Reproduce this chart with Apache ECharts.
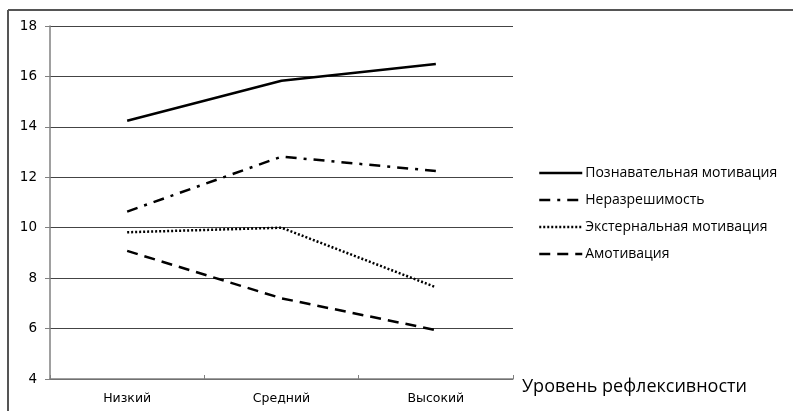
<!DOCTYPE html>
<html>
<head>
<meta charset="utf-8">
<script src="https://cdn.jsdelivr.net/npm/echarts@6/dist/echarts.min.js"></script>
<style>
html,body{margin:0;padding:0;background:#fff;}
#chart{width:793px;height:411px;}
</style>
</head>
<body>
<div id="chart"></div>
<script>
var categories = ['Низкий', 'Средний', 'Высокий'];
var seriesNames = ['Познавательная мотивация', 'Неразрешимость', 'Экстернальная мотивация', 'Амотивация'];
var poznavatelnaya = [14.24, 15.83, 16.49];
var nerazreshimost = [10.64, 12.82, 12.25];
var eksternalnaya = [9.82, 10.0, 7.64];
var amotivaciya = [9.08, 7.2, 5.94];
var yTicks = [4, 6, 8, 10, 12, 14, 16, 18];
var xAxisTitle = 'Уровень рефлексивности';

var dataSets = [poznavatelnaya, nerazreshimost, eksternalnaya, amotivaciya];
var dashTypes = ['solid', [11, 7, 3, 7], [2, 2], [11, 7]];

var chart = echarts.init(document.getElementById('chart'), null, {renderer: 'canvas'});
var series = seriesNames.map(function (n, i) {
  return {
    name: n,
    type: 'line',
    data: dataSets[i],
    symbol: 'none',
    lineStyle: {color: '#000', width: 2.5, type: dashTypes[i]},
    itemStyle: {color: '#000'},
    animation: false
  };
});

chart.setOption({
  animation: false,
  backgroundColor: '#fff',
  grid: {left: 50, right: 280, top: 26, bottom: 32, containLabel: false},
  legend: {
    orient: 'vertical',
    left: 533,
    top: 161,
    itemWidth: 43,
    itemHeight: 14,
    itemGap: 13,
    data: seriesNames,
    itemStyle: {opacity: 0, borderWidth: 0},
    lineStyle: {width: 2.5},
    textStyle: {fontFamily: 'Open Sans', fontSize: 14, color: '#000', padding: [0, 0, 0, -2]},
    selectedMode: false
  },
  xAxis: {
    type: 'category',
    data: categories,
    boundaryGap: true,
    name: xAxisTitle,
    nameLocation: 'end',
    nameGap: 9,
    nameTextStyle: {fontFamily: 'Open Sans', fontSize: 18, color: '#000', verticalAlign: 'top', lineHeight: 15},
    axisLine: {lineStyle: {color: '#808080', width: 1.5}},
    axisTick: {show: true, inside: true, length: 4, lineStyle: {color: '#808080'}},
    axisLabel: {fontFamily: 'DejaVu Sans', fontSize: 12.5, color: '#000', margin: 13},
    splitLine: {show: false}
  },
  yAxis: {
    type: 'value',
    min: 4,
    max: 18,
    interval: 2,
    axisLine: {show: true, lineStyle: {color: '#808080', width: 1.5}},
    axisTick: {show: true, length: 5, lineStyle: {color: '#808080'}},
    axisLabel: {fontFamily: 'DejaVu Sans', fontSize: 13.5, color: '#000', margin: 13,
      formatter: function (v) { return yTicks.indexOf(v) >= 0 ? String(v) : ''; }},
    splitLine: {show: true, lineStyle: {color: '#444', width: 1.2}}
  },
  graphic: [
    {type: 'line', shape: {x1: 8, y1: 10, x2: 793, y2: 10}, style: {stroke: '#555', lineWidth: 2}, silent: true},
    {type: 'line', shape: {x1: 8, y1: 10, x2: 8, y2: 411}, style: {stroke: '#555', lineWidth: 2}, silent: true}
  ],
  series: series
});
</script>
</body>
</html>
